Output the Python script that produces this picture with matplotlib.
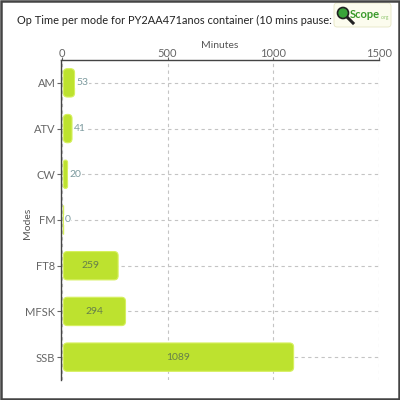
import matplotlib
matplotlib.use("Agg")
import matplotlib.pyplot as plt
from matplotlib.patches import FancyBboxPatch, Rectangle, Circle
from matplotlib.lines import Line2D

modes = ["AM", "ATV", "CW", "FM", "FT8", "MFSK", "SSB"]
minutes = [53, 41, 20, 0, 259, 294, 1089]
xticks = [0, 500, 1000, 1500]
title = "Op Time per mode for PY2AA471anos container (10 mins pause:"

plt.rcParams['font.family'] = ['Lato', 'DejaVu Sans']

fig = plt.figure(figsize=(4, 4), dpi=100)
ax = fig.add_axes([61/400, 20/400, 318/400, 320/400])

y = list(range(len(modes)))
bars = ax.barh(y, minutes, height=0.62, color='#bde22f', zorder=2)
ax.set_ylim(len(modes) - 0.5, -0.5)
ax.set_xlim(-4, 1500)

# rounded bars
xpp = 1504 / 318.0
ypp = 7 / 320.0
for b in bars:
    b.set_visible(False)
    x0, y0 = b.get_x(), b.get_y()
    w, h = b.get_width(), b.get_height()
    x0 += 1.5 * xpp
    rs = min(4 * xpp, max(w / 2, 0.01))
    p = FancyBboxPatch((x0, y0), max(w, 0.3 * xpp), h,
                       boxstyle=f"round,pad=0,rounding_size={rs}",
                       mutation_aspect=ypp / xpp,
                       facecolor='#bde22f', edgecolor='#d6f05e', lw=0.8, zorder=2)
    ax.add_patch(p)

for yi, v in zip(y, minutes):
    if v < 150:
        ax.text(v + 3 * xpp, yi, str(v), ha='left', va='center', fontsize=7.5,
                color='#7c9a9e', zorder=3,
                bbox=dict(facecolor='white', edgecolor='none', pad=0.5))
    else:
        ax.text(v / 2 + 1.5 * xpp, yi, str(v), ha='center', va='center', fontsize=7.5,
                color='#667f4a', zorder=3)

ax.xaxis.tick_top()
ax.xaxis.set_label_position('top')
ax.set_xticks(xticks)
ax.set_xticklabels([str(t) for t in xticks])
ax.set_yticks(y)
ax.set_yticklabels(modes)
ax.tick_params(axis='x', length=2, pad=-1, labelsize=8, colors='#666666', width=0.8)
ax.tick_params(axis='y', length=3, pad=1, labelsize=8, colors='#666666', width=0.8)
ax.set_xlabel("Minutes", fontsize=7.5, color='#555555', labelpad=0)
ax.set_ylabel("Modes", fontsize=7.5, color='#555555')
ax.yaxis.set_label_coords(-0.092, 0.49)

for s in ['right', 'bottom']:
    ax.spines[s].set_visible(False)
for s in ['left', 'top']:
    ax.spines[s].set_color('#444444')
    ax.spines[s].set_linewidth(1.0)

ax.grid(True, axis='both', linestyle=(0, (3, 3)), color='#c4c4c4', linewidth=0.8, zorder=0)
ax.set_axisbelow(True)

# title
fig.text(17/400, 1 - 20/400, title, ha='left', va='center', fontsize=7.9,
         color='#222222')

# logo
logo = FancyBboxPatch((334/400, 1 - 27/400), 57/400, 24/400,
                      boxstyle="round,pad=0,rounding_size=0.008",
                      transform=fig.transFigure, facecolor='#fcfcee',
                      edgecolor='#e6e6c4', lw=0.6, zorder=5)
fig.add_artist(logo)
fig.add_artist(Line2D([345/400, 353/400], [1 - 15/400, 1 - 23/400], transform=fig.transFigure,
                      color='#222222', lw=2.2, zorder=6))
fig.add_artist(Circle((343/400, 1 - 13/400), 5.5/400, transform=fig.transFigure,
                      facecolor='#3aa43a', edgecolor='#222222', lw=1.2, zorder=7))
fig.text(350/400, 1 - 14/400, "Scope", ha='left', va='center', fontsize=8,
         fontweight='bold', color='#3a9a2a', zorder=8)
fig.text(381/400, 1 - 18/400, ".org", ha='left', va='center', fontsize=3.5,
         color='#8cc46a', zorder=8)

# figure frame
fig.add_artist(Rectangle((0.002, 0.002), 0.996, 0.996, transform=fig.transFigure,
                         fill=False, edgecolor='#444444', lw=1.8, zorder=10))

fig.savefig("out.png", dpi=100)
